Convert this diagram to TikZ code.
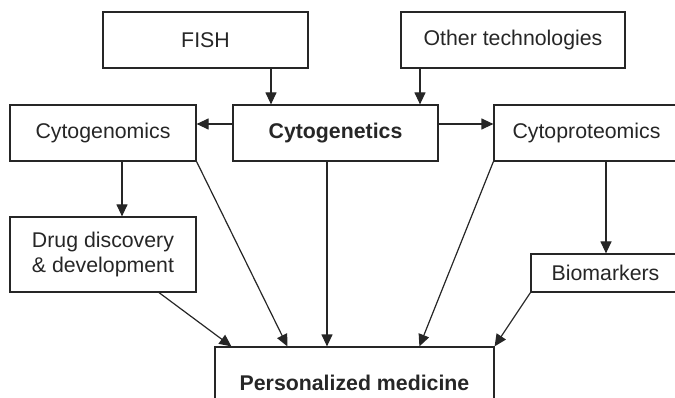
\documentclass[tikz,border=0pt]{standalone}
\usepackage{fontspec}
\setmainfont{Liberation Sans}
\usetikzlibrary{arrows.meta}
\tikzset{
  box/.style={draw=black!85, line width=1.2pt, rectangle, inner sep=0pt, align=center, font=\fontsize{21.3}{25}\selectfont, text=black!85},
  arr/.style={draw=black!85, line width=1.2pt, -{Triangle[length=12pt,width=11pt]}}
}
\begin{document}
\begin{tikzpicture}[x=1pt,y=-1pt]
\useasboundingbox (0,0) rectangle (675,398);
\clip (0,0) rectangle (675,398);
\node[box, minimum width=205pt, minimum height=56pt] (fish) at (205.5,40) {FISH};
\node[box, minimum width=224pt, minimum height=56pt] (other) at (513,40) {Other technologies};
\node[box, minimum width=186pt, minimum height=56pt] (cgm) at (103,133) {Cytogenomics};
\node[box, minimum width=205pt, minimum height=56pt] (cgn) at (335.5,133) {\bfseries Cytogenetics};
\node[box, minimum width=185pt, minimum height=56pt] (cpm) at (586.5,133) {Cytoproteomics};
\node[box, minimum width=186pt, minimum height=75pt] (drug) at (103,254.5) {Drug discovery\\\& development};
\node[box, minimum width=149pt, minimum height=38pt] (bio) at (605.5,273) {Biomarkers};
\node[box, minimum width=279pt, minimum height=72pt] (pm) at (354.5,383) {\bfseries Personalized medicine};

\draw[arr] ([xshift=65.5pt]fish.south) -- ([xshift=65.5pt]fish.south |- cgn.north);
\draw[arr] ([xshift=-93pt]other.south) -- ([xshift=-93pt]other.south |- cgn.north);
\draw[arr] ([yshift=9pt]cgn.west) -- ([yshift=9pt]cgn.west -| cgm.east);
\draw[arr] ([yshift=9pt]cgn.east) -- ([yshift=9pt]cgn.east -| cpm.west);
\draw[arr] ([xshift=19pt]cgm.south) -- ([xshift=19pt]cgm.south |- drug.north);
\draw[arr] ([xshift=19.5pt]cpm.south) -- ([xshift=19.5pt]cpm.south |- bio.north);
\draw[arr] (cgm.south east) -- ([xshift=73pt]pm.north west);
\draw[arr] ([xshift=-8.5pt]cgn.south) -- ([xshift=-8.5pt]cgn.south |- pm.north);
\draw[arr] (cpm.south west) -- ([xshift=205pt]pm.north west);
\draw[arr] ([xshift=56pt]drug.south) -- ([xshift=17pt]pm.north west);
\draw[arr] (bio.south west) -- (pm.north east);
\end{tikzpicture}
\end{document}
